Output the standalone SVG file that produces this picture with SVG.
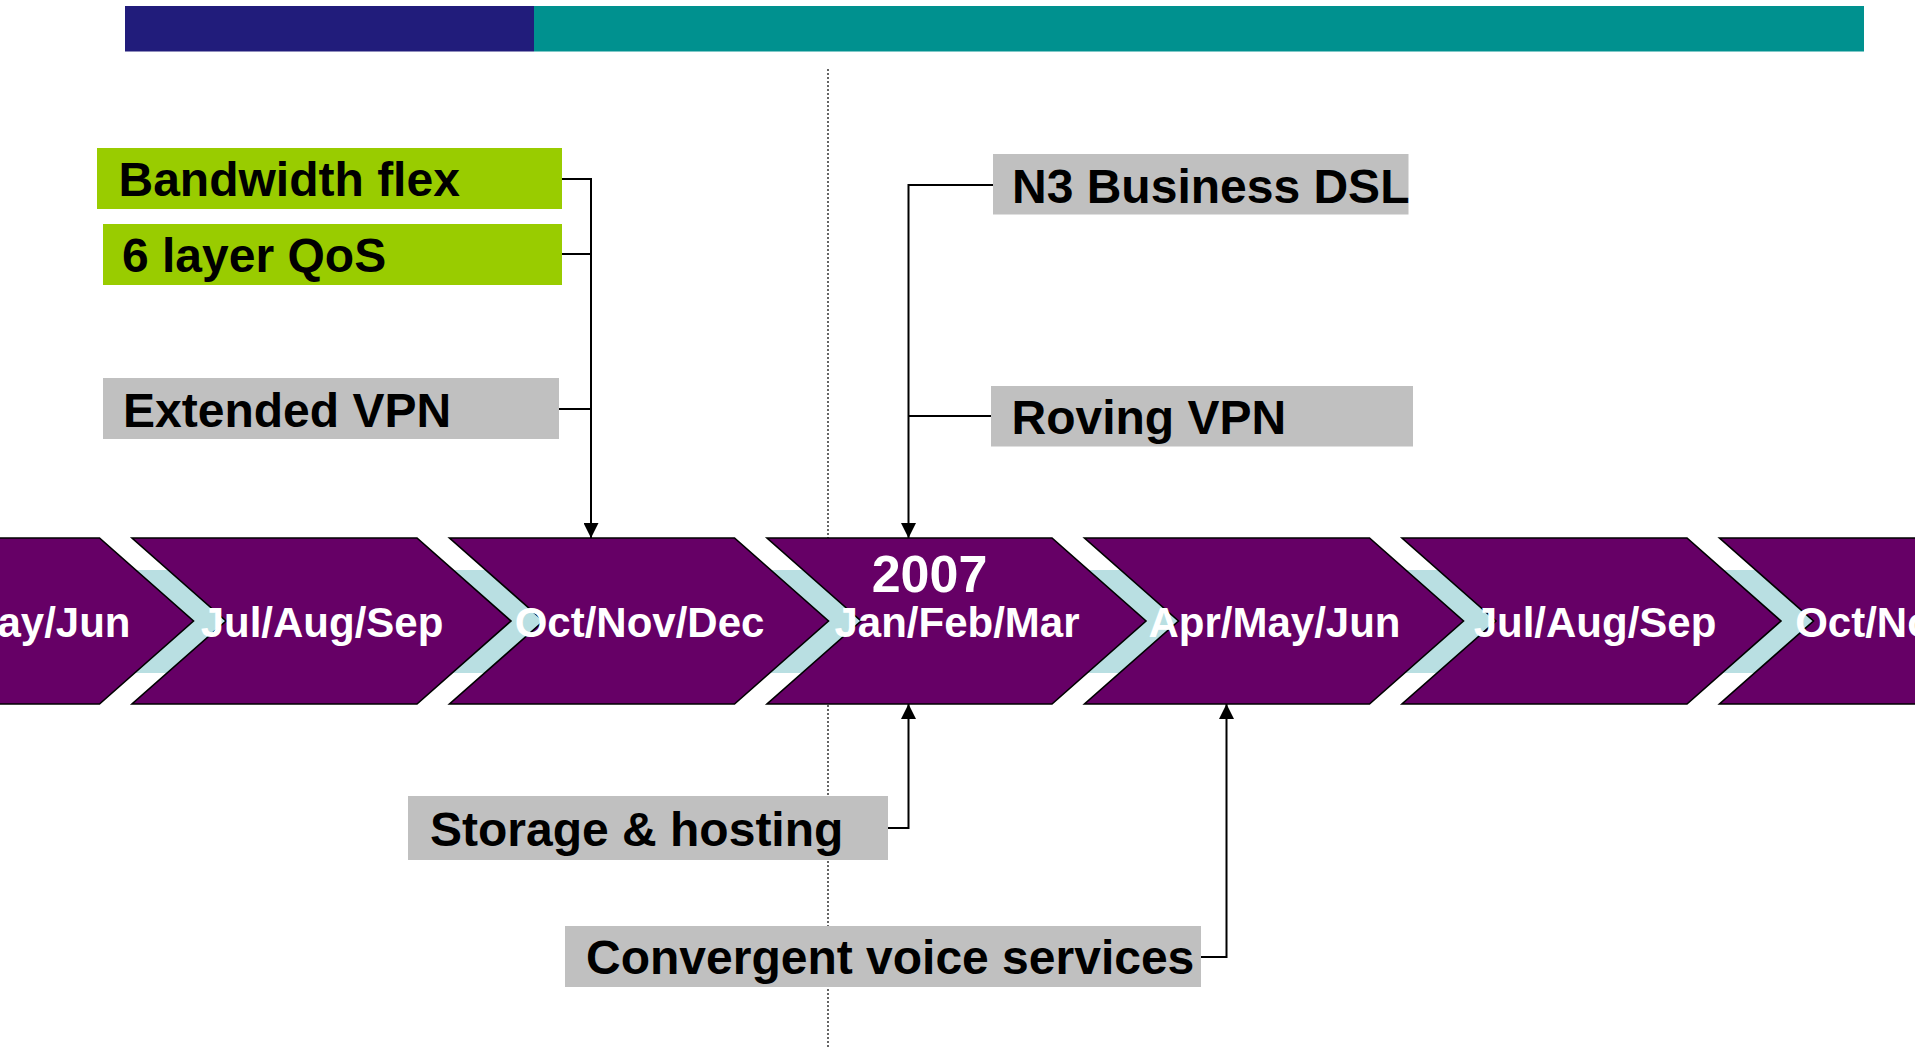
<svg xmlns="http://www.w3.org/2000/svg" width="1915" height="1048" viewBox="0 0 1915 1048">
  <style>
    .lbl { font-family: "Liberation Sans", Arial, sans-serif; font-weight: bold; font-size: 48px; fill: #000; }
    .qtr { font-family: "Liberation Sans", Arial, sans-serif; font-weight: bold; font-size: 42px; fill: #fff; text-anchor: middle; }
    .yr { font-family: "Liberation Sans", Arial, sans-serif; font-weight: bold; font-size: 52px; fill: #fff; text-anchor: middle; }
    .green { fill: #99CC00; }
    .grey { fill: #C0C0C0; }
    .chev { fill: #660066; stroke: #000; stroke-width: 1.6; stroke-linejoin: miter; }
    .link { fill: none; stroke: #000; stroke-width: 2; }
  </style>
  <defs>
    <marker id="tip" markerUnits="userSpaceOnUse" markerWidth="15" markerHeight="15" refX="15" refY="7.5" orient="auto">
      <path d="M0,0 L15,7.5 L0,15 z" fill="#000"/>
    </marker>
    <!-- one chevron step, left edge at x=0 -->
    <polygon id="step" points="0,538 285,538 379,621 285,704 0,704 94,621"/>
  </defs>

  <rect width="1915" height="1048" fill="#fff"/>

  <!-- header band -->
  <g id="header">
    <rect x="125" y="6" width="409" height="45.5" fill="#211C7B"/>
    <rect x="534" y="6" width="1330" height="45.5" fill="#00918F"/>
  </g>

  <!-- year divider -->
  <line id="divider" x1="828" y1="69" x2="828" y2="1048" stroke="#333" stroke-width="1.5" stroke-dasharray="2 2"/>

  <!-- timeline -->
  <g id="timeline">
    <rect x="0" y="570" width="1915" height="103" fill="#B9DFE2"/>
    <g id="q-apr-2006">
      <use href="#step" class="chev" x="-185.5"/>
      <text class="qtr" x="4.5" y="637">Apr/May/Jun</text>
    </g>
    <g id="q-jul-2006">
      <use href="#step" class="chev" x="132"/>
      <text class="qtr" x="322" y="637">Jul/Aug/Sep</text>
    </g>
    <g id="q-oct-2006">
      <use href="#step" class="chev" x="449.5"/>
      <text class="qtr" x="639.5" y="637">Oct/Nov/Dec</text>
    </g>
    <g id="q-jan-2007">
      <use href="#step" class="chev" x="767"/>
      <text class="yr" x="929.5" y="592">2007</text>
      <text class="qtr" x="957" y="637">Jan/Feb/Mar</text>
    </g>
    <g id="q-apr-2007">
      <use href="#step" class="chev" x="1084.5"/>
      <text class="qtr" x="1274.5" y="637">Apr/May/Jun</text>
    </g>
    <g id="q-jul-2007">
      <use href="#step" class="chev" x="1402"/>
      <text class="qtr" x="1595" y="637">Jul/Aug/Sep</text>
    </g>
    <g id="q-oct-2007">
      <use href="#step" class="chev" x="1719.5"/>
      <text class="qtr" x="1920" y="637">Oct/Nov/Dec</text>
    </g>
  </g>

  <!-- connectors -->
  <g id="connectors">
    <path class="link" d="M562,179 H591 V538" marker-end="url(#tip)"/>
    <path class="link" d="M562,254 H591"/>
    <path class="link" d="M559,409 H591"/>
    <path class="link" d="M993,185 H908.5 V538" marker-end="url(#tip)"/>
    <path class="link" d="M991,416 H908.5"/>
    <path class="link" d="M888,828 H908.5 V704" marker-end="url(#tip)"/>
    <path class="link" d="M1201,957 H1226.5 V704" marker-end="url(#tip)"/>
  </g>

  <!-- feature labels -->
  <g id="bandwidth-flex">
    <rect class="green" x="97" y="148" width="465" height="61"/>
    <text class="lbl" x="118.5" y="196">Bandwidth flex</text>
  </g>
  <g id="qos">
    <rect class="green" x="103" y="224" width="459" height="61"/>
    <text class="lbl" x="122" y="271.5">6 layer QoS</text>
  </g>
  <g id="extended-vpn">
    <rect class="grey" x="103" y="378" width="456" height="61"/>
    <text class="lbl" x="123" y="426.5">Extended VPN</text>
  </g>
  <g id="n3-dsl">
    <rect class="grey" x="993" y="154" width="415.5" height="60.5"/>
    <text class="lbl" x="1012" y="202.5">N3 Business DSL</text>
  </g>
  <g id="roving-vpn">
    <rect class="grey" x="991" y="386" width="422" height="60.5"/>
    <text class="lbl" x="1011.5" y="434">Roving VPN</text>
  </g>
  <g id="storage-hosting">
    <rect class="grey" x="408" y="796" width="480" height="64"/>
    <text class="lbl" x="430" y="845.5">Storage &amp; hosting</text>
  </g>
  <g id="voice-services">
    <rect class="grey" x="565" y="926" width="636" height="61"/>
    <text class="lbl" x="586" y="974">Convergent voice services</text>
  </g>
</svg>
